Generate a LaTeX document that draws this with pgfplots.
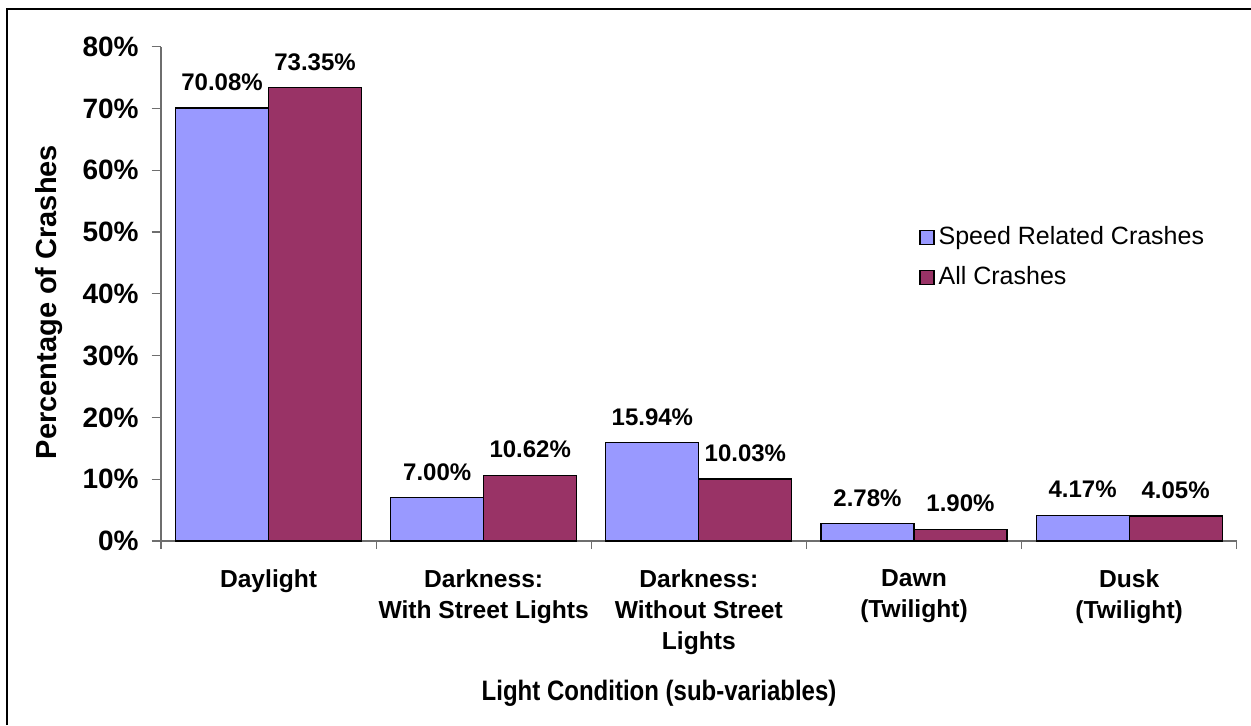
\documentclass[border=0pt]{standalone}
\usepackage{pgfplots}
\pgfplotsset{compat=1.18}
\usepackage{fontspec}
\setmainfont{Liberation Sans}

\definecolor{speedblue}{RGB}{153,153,255}
\definecolor{allred}{RGB}{153,51,102}
\definecolor{axgray}{RGB}{110,110,110}

\pgfplotsset{
  sqleg/.style={legend image code/.code={\draw[##1,line width=0.6pt] (0pt,-3.5pt) rectangle (7pt,3.5pt);}},
}

\begin{document}
\begin{tikzpicture}
\begin{axis}[
  at={(80.5pt,92pt)}, anchor=south west,
  scale only axis, width=537.85pt, height=247.15pt,
  ymin=0, ymax=80, xmin=-0.5, xmax=4.5,
  ybar=0pt, bar width=46.5pt,
  axis x line=bottom, axis y line=left,
  axis line style={-, axgray, line width=0.6pt},
  /pgf/number format/assume math mode=true,
  ytick={0,10,...,80},
  yticklabel={\pgfmathprintnumber{\tick}\%},
  yticklabel style={font=\fontsize{14}{16}\selectfont\bfseries, xshift=-3pt},
  xtick={0,...,4},
  xticklabels={Daylight, Darkness:\\With Street Lights, Darkness:\\Without Street\\Lights, Dawn\\(Twilight), Dusk\\(Twilight)},
  xticklabel style={font=\fontsize{12.3}{15.5}\selectfont\bfseries, align=center, anchor=north, yshift=-6pt},
  major x tick style={draw=none},
  minor xtick={-0.5,0.5,...,4.5},
  tick align=outside, major tick length=4.65pt, minor tick length=4pt,
  tick style={axgray, line width=0.6pt},
  ylabel={Percentage of Crashes},
  ylabel style={font=\fontsize{14.5}{16}\selectfont\bfseries, at={(axis description cs:-0.104,0.4835)}, anchor=center},
  xlabel={\scalebox{1}[1.17]{Light Condition (sub-variables)}},
  xlabel style={font=\fontsize{12}{14}\selectfont\bfseries, at={(axis description cs:0.463,-0.3217)}, anchor=base},
  nodes near coords={\pgfmathprintnumber[fixed,fixed zerofill,precision=2]{\pgfplotspointmeta}\%},
  nodes near coords style={font=\fontsize{12}{14}\selectfont\bfseries, anchor=south, yshift=5pt, black},
  legend style={draw=none, fill=none, inner sep=0pt, at={(0.7047,0.645)}, anchor=north west,
    font=\fontsize{12.5}{15}\selectfont, row sep=5.5pt, cells={anchor=west}},
  clip=false,
]
\addplot[fill=speedblue, draw=black, line width=0.6pt, sqleg] coordinates {
  (0,70.08) (1,7.00) (2,15.94) (3,2.78) (4,4.17)
};
\addplot[fill=allred, draw=black, line width=0.6pt, sqleg] coordinates {
  (0,73.35) (1,10.62) (2,10.03) (3,1.90) (4,4.05)
};
\legend{Speed Related Crashes, All Crashes}
\end{axis}
\draw[line width=1pt] (3.5pt,0pt) -- (3.5pt,358pt) -- (625.5pt,358pt);
\pgfresetboundingbox
\path[use as bounding box] (0pt,0pt) rectangle (625.5pt,362.5pt);
\end{tikzpicture}
\end{document}
